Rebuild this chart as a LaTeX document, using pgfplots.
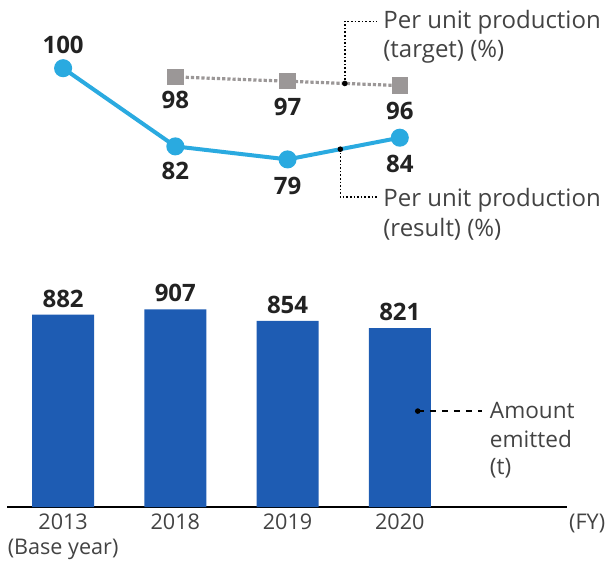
\documentclass[border=0pt]{standalone}
\usepackage{fontspec}
\setmainfont{Open Sans}
\usepackage{pgfplots}
\pgfplotsset{compat=1.18}

\definecolor{barblue}{HTML}{1E5CB3}
\definecolor{lineblue}{HTML}{2AAAE0}
\definecolor{tgtgray}{HTML}{9B9797}
\definecolor{txt}{HTML}{222222}

\begin{document}
\begin{tikzpicture}
\useasboundingbox (0,0) rectangle (304pt,281.5pt);

% emissions (bars)
\begin{axis}[
    at={(3.5pt,28pt)}, anchor=south west,
    scale only axis, width=280pt, height=109pt,
    xmin=-0.5, xmax=4.49, ymin=0, ymax=1000,
    axis x line=bottom, axis y line=none,
    axis line style={black, line width=1.4pt, -},
    xtick={0,1,2,3},
    xticklabels={2013\\(Base year),2018,2019,2020},
    xticklabel style={align=center, font=\fontsize{10.8}{12.5}\selectfont, text=txt!85},
    major tick length=0pt,
    /pgf/number format/assume math mode=true,
    ybar, bar width=31pt,
    nodes near coords,
    every node near coord/.append style={font=\fontsize{12}{14}\selectfont\bfseries, text=txt},
    clip=false
]
\addplot[fill=barblue, draw=none] coordinates {(0,882) (1,907) (2,854) (3,821)};

\fill[black] (axis cs:3.16,440) circle (1.4pt);
\draw[black, dashed, line width=0.6pt] (axis cs:3.16,440) -- (axis cs:3.73,440);
\begin{scope}[every node/.style={anchor=base west, inner sep=0pt, text=txt!85, font=\fontsize{11.3}{13}\selectfont}]
\node at (axis cs:3.80,408) {Amount};
\node at (axis cs:3.80,275) {emitted};
\node at (axis cs:3.80,147) {(t)};
\end{scope}
\node[font=\fontsize{10.8}{12}\selectfont, text=txt!85] at (axis cs:4.67,0) [yshift=-8pt] {(FY)};
\end{axis}

% per unit production (lines)
\begin{axis}[
    at={(3.5pt,182.25pt)}, anchor=south west,
    scale only axis, width=280pt, height=76pt,
    xmin=-0.5, xmax=4.49, ymin=70, ymax=105,
    hide axis, clip=false,
    /pgf/number format/assume math mode=true,
    every node near coord/.append style={font=\fontsize{12}{14}\selectfont\bfseries, text=txt, anchor=center}
]
\addplot[tgtgray, line width=1.6pt, densely dotted,
    mark=square*, mark size=3.3pt, mark options={solid, fill=tgtgray},
    nodes near coords,
    visualization depends on={value \thisrow{dy}\as\dy},
    every node near coord/.append style={yshift=\dy pt}] table {
x y dy
1 98 -11.5
2 97 -13
3 96 -12.5
};
\addplot[lineblue, line width=2pt,
    mark=*, mark size=3.5pt, mark options={fill=lineblue},
    nodes near coords,
    visualization depends on={value \thisrow{dy}\as\dy},
    every node near coord/.append style={yshift=\dy pt}] table {
x y dy
0 100 11.5
1 82 -12.5
2 79 -13.5
3 84 -13
};

\fill[black] (axis cs:2.51,96.49) circle (1.4pt);
\draw[black, densely dotted, line width=0.8pt] (axis cs:2.51,96.49) |- (axis cs:2.80,110.8);
\fill[black] (axis cs:2.47,81.35) circle (1.4pt);
\draw[black, densely dotted, line width=0.8pt] (axis cs:2.47,81.35) |- (axis cs:2.80,70.3);
\begin{scope}[every node/.style={anchor=base west, inner sep=0pt, text=txt!85, font=\fontsize{12}{14}\selectfont}]
\node at (axis cs:2.85,109.2) {Per unit production};
\node at (axis cs:2.85,102.5) {(target) (\%)};
\node at (axis cs:2.85,68.2) {Per unit production};
\node at (axis cs:2.85,61.3) {(result) (\%)};
\end{scope}
\end{axis}
\end{tikzpicture}
\end{document}
